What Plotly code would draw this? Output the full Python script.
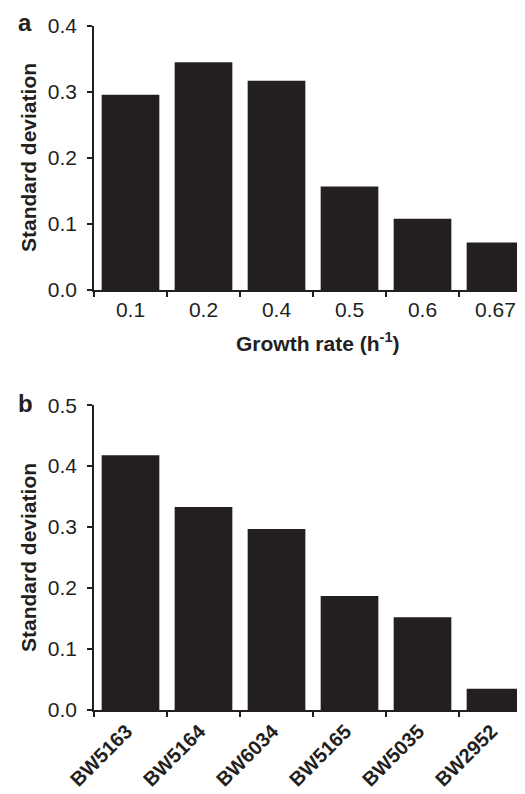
import plotly.graph_objects as go

# Panel a data
growth_rates = ["0.1", "0.2", "0.4", "0.5", "0.6", "0.67"]
sd_growth = [0.296, 0.345, 0.317, 0.157, 0.108, 0.072]

# Panel b data
strains = ["BW5163", "BW5164", "BW6034", "BW5165", "BW5035", "BW2952"]
sd_strain = [0.418, 0.333, 0.297, 0.187, 0.152, 0.035]

bar_color = "#231f20"
font_family = "Liberation Sans, Arial, sans-serif"

L, R, T, B = 86, 1, 18, 92
W, H = 525, 794

fig = go.Figure()
fig.add_trace(go.Bar(x=growth_rates, y=sd_growth, marker=dict(color=bar_color, line=dict(width=0)),
                     xaxis="x", yaxis="y", showlegend=False))
fig.add_trace(go.Bar(x=strains, y=sd_strain, marker=dict(color=bar_color, line=dict(width=0)),
                     xaxis="x2", yaxis="y2", showlegend=False))

tick_font = dict(family=font_family, size=21, color=bar_color)
title_font = dict(family=font_family, size=21, color=bar_color)

axis_common = dict(showline=True, linecolor=bar_color, linewidth=1.5, ticks="outside",
                   tickcolor=bar_color, ticklen=5, tickwidth=1.5, showgrid=False, zeroline=False)

fig.update_layout(
    width=W, height=H,
    margin=dict(l=L, r=R, t=T, b=B),
    plot_bgcolor="white", paper_bgcolor="white",
    bargap=0.21,
    font=dict(family=font_family, color=bar_color),
    xaxis=dict(domain=[0, 1], anchor="y", tickson="boundaries", tickfont=tick_font, **axis_common),
    yaxis=dict(domain=[0.614, 1], anchor="x", range=[0, 0.4], dtick=0.1, tickformat=".1f",
               ticklabelstandoff=6, tickfont=tick_font, **axis_common),
    xaxis2=dict(domain=[0, 1], anchor="y2", tickson="boundaries", tickangle=-45, ticklabelshift=-4,
                tickfont=dict(family=font_family, size=20, color=bar_color, weight="bold"), **axis_common),
    yaxis2=dict(domain=[0, 0.4457], anchor="x2", range=[0, 0.5], dtick=0.1, tickformat=".1f",
                ticklabelstandoff=6, tickfont=tick_font, **axis_common),
)

plot_w = W - L - R
plot_h = H - T - B
def px_to_paper(px, py):
    return (px - L) / plot_w, (H - B - py) / plot_h

ann = []
for lab, (px, py) in [("a", (17, 14)), ("b", (17, 396))]:
    xp, yp = px_to_paper(px, py)
    ann.append(dict(text=f"<b>{lab}</b>", x=xp, y=yp, xref="paper", yref="paper", showarrow=False,
                    xanchor="center", yanchor="middle", font=dict(size=24, family=font_family, color=bar_color)))

for (px, py) in [(20, 150), (20, 550)]:
    xp, yp = px_to_paper(px, py)
    ann.append(dict(text="<b>Standard deviation</b>", textangle=-90, x=xp, y=yp, xref="paper", yref="paper",
                    showarrow=False, xanchor="center", yanchor="middle", font=title_font))

xp, yp = px_to_paper(310, 334)
ann.append(dict(text="<b>Growth rate (h<sup>-1</sup>)</b>", x=xp, y=yp, xref="paper", yref="paper",
                showarrow=False, xanchor="center", yanchor="middle", font=title_font))
fig.update_layout(annotations=ann)

fig.write_html("out.html")
